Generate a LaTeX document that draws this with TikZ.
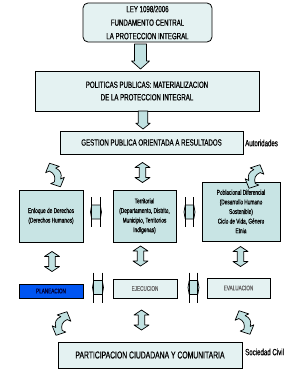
\documentclass[tikz,border=0pt]{standalone}
\usepackage{fontspec}
\setmainfont{Liberation Sans}[FakeStretch=0.68, FakeBold=0.5]
\usetikzlibrary{calc}
\definecolor{paleteal}{HTML}{E4F2F2}
\definecolor{boxteal}{HTML}{C8E4E4}
\definecolor{arrowteal}{HTML}{C2E2E2}
\definecolor{planblue}{HTML}{0055F2}

\tikzset{
  flecha/.style={draw, line width=0.7pt, fill=arrowteal, line join=round},
  pics/bajada/.style={code={
    \draw[flecha] (-6,-12.5) -- (6,-12.5) -- (6,4.5) -- (9,4.5) -- (0,12.5)
      -- (-9,4.5) -- (-6,4.5) -- cycle;
  }},
  pics/doble/.style={code={
    \draw[flecha] (0,-10) -- (7.5,-5) -- (3.2,-5) -- (3.2,5) -- (7.5,5) -- (0,10)
      -- (-7.5,5) -- (-3.2,5) -- (-3.2,-5) -- (-7.5,-5) -- cycle;
  }},
  pics/enlace/.style={code={
    \draw[flecha] (-5.5,0) -- (-4.3,-7) -- (4.3,-7) -- (5.5,0) -- (4.3,7)
      -- (-4.3,7) -- cycle;
    \draw[line width=1.1pt] (-4.3,-15) -- (-4.3,15) (4.3,-15) -- (4.3,15);
  }},
  pics/curva/.style={code={
    \draw[flecha] (0,-13) -- (7.5,-6) -- (3.5,-6) .. controls (7,-2) and (7,2) .. (3.5,6)
      -- (7.5,6) -- (0,13) -- (-7.5,6) -- (-3.5,6) .. controls (0,2) and (0,-2) .. (-3.5,-6)
      -- (-7.5,-6) -- cycle;
  }}
}

\begin{document}
\begin{tikzpicture}[x=1pt, y=-1pt,
  caja/.style={draw, line width=0.8pt, fill=paleteal, inner sep=0pt, align=center},
  grande/.style={font=\fontsize{9}{13.5}\selectfont},
  chica/.style={font=\fontsize{7}{9.6}\selectfont},
  mini/.style={font=\fontsize{6.8}{8}\selectfont, text=black!60},
  lateral/.style={font=\fontsize{9}{10}\selectfont, anchor=west, inner sep=0pt}]
  \useasboundingbox (0,0) rectangle (289,380);

  % Ley y politicas
  \node[caja, grande, rounded corners=5pt, minimum width=129pt, minimum height=39pt]
    (ley) at (147.5,22.5) {LEY 1098/2006\\FUNDAMENTO CENTRAL\\LA PROTECCION INTEGRAL};
  \node[caja, font=\fontsize{9}{12.5}\selectfont, minimum width=224pt, minimum height=40pt]
    (pol) at (147,91) {POLITICAS PUBLICAS: MATERIALIZACION\\DE LA PROTECCION INTEGRAL};
  \node[caja, grande, minimum width=183pt, minimum height=23pt]
    (ges) at (151.5,142.5) {GESTION PUBLICA ORIENTADA A RESULTADOS};
  \node[lateral] (aut) at (245,143) {Autoridades};
  \pic at (140.5,56.5) {bajada};
  \pic[xscale=0.8, yscale=0.72] at (143,120) {bajada};

  % Enfoques
  \node[caja, chica, fill=boxteal, minimum width=64pt, minimum height=52pt]
    (enf) at (51,216) {Enfoque de Derechos\\(Derechos Humanos)};
  \node[caja, chica, fill=boxteal, minimum width=63pt, minimum height=52pt]
    (ter) at (144.5,216) {Territorial\\(Departamento, Distrito,\\Municipio, Territorios\\Indígenas)};
  \node[caja, chica, fill=boxteal, minimum width=78pt, minimum height=59pt]
    (pob) at (241,211.5) {Poblacional Diferencial\\(Desarrollo Humano\\Sostenible)\\Ciclo de Vida, Género\\Etnia};
  \pic[rotate=25] at (55,175) {curva};
  \pic at (142.5,172.5) {doble};
  \pic[xscale=-1, rotate=25] at (254.5,176.5) {curva};
  \pic at (96,212) {enlace};
  \pic at (189.5,212) {enlace};

  % Ciclo de gestion
  \node[caja, mini, fill=planblue, text=blue!20!black, minimum width=64pt, minimum height=14pt]
    (pla) at (51,291) {PLANEACION};
  \node[caja, mini, minimum width=64pt, minimum height=19pt] (eje) at (145,288.5) {EJECUCION};
  \node[caja, mini, minimum width=63pt, minimum height=20pt] (eva) at (238.5,288) {EVALUACION};
  \pic at (52,261.5) {doble};
  \pic at (140.5,256) {doble};
  \pic at (240.5,256.5) {doble};
  \pic at (98,287.5) {enlace};
  \pic at (193.5,287.5) {enlace};

  % Participacion
  \node[caja, font=\fontsize{10}{12}\selectfont, minimum width=184pt, minimum height=26pt]
    (par) at (150,355) {PARTICIPACION CIUDADANA Y COMUNITARIA};
  \node[lateral] (soc) at (245,352) {Sociedad Civil};
  \pic[xscale=-1, rotate=25] at (61.5,323.5) {curva};
  \pic at (141.5,320) {doble};
  \pic[rotate=25] at (244.5,322.5) {curva};
\end{tikzpicture}
\end{document}
